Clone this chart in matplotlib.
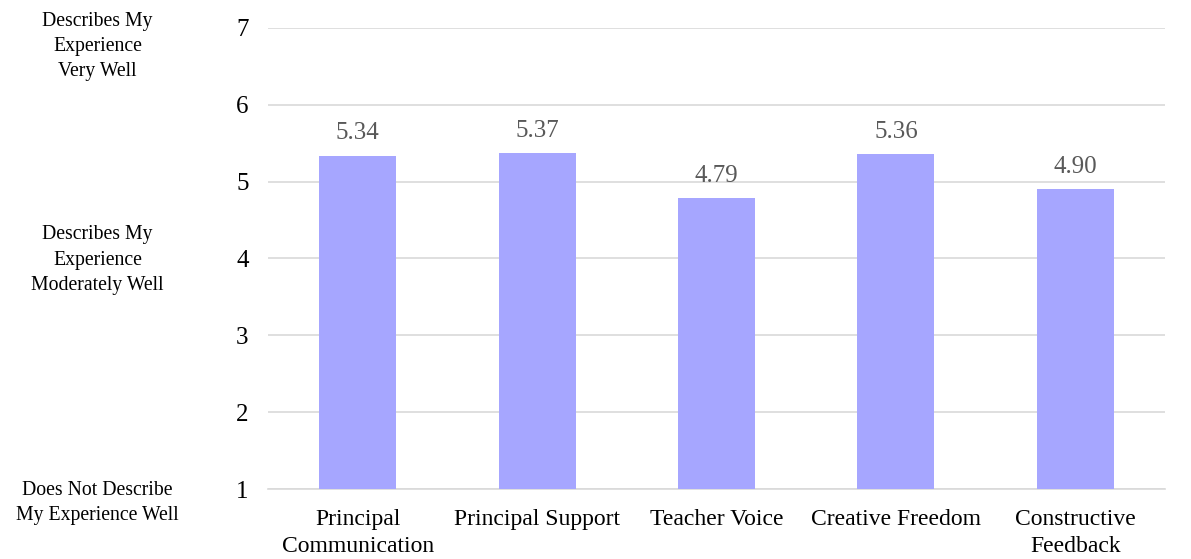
import matplotlib.pyplot as plt
import numpy as np

categories = ['Principal\nCommunication', 'Principal Support', 'Teacher Voice',
              'Creative Freedom', 'Constructive\nFeedback']
values = [5.34, 5.37, 4.79, 5.36, 4.90]
yticks = [1, 2, 3, 4, 5, 6, 7]
scale_labels = ['Does Not Describe\nMy Experience Well',
                'Describes My\nExperience\nModerately Well',
                'Describes My\nExperience\nVery Well']
scale_pos = [0.82, 3.98, 6.76]

plt.rcParams['font.family'] = ['Liberation Serif', 'DejaVu Serif']

fig = plt.figure(figsize=(11.91, 5.59), dpi=100)
ax = fig.add_axes([268/1191, 1 - 489/559, 897/1191, 461/559])

x = np.arange(len(categories))
ax.bar(x, np.array(values) - 1, 0.43, bottom=1, color='#A6A6FF', zorder=3)

# value labels above bars
for xi, v in zip(x, values):
    ax.text(xi, v + 0.29, f'{v:.2f}', ha='center', va='center',
            fontsize=18, color='#595959')

ax.set_ylim(1, 7)
ax.set_xlim(-0.5, len(categories) - 0.5)
ax.set_yticks(yticks)
ax.set_yticklabels([str(t) for t in yticks], fontsize=18)
ax.set_xticks(x)
ax.set_xticklabels(categories, fontsize=17, linespacing=1.35)
ax.tick_params(axis='x', length=0, pad=14.5)
ax.tick_params(axis='y', length=0, pad=14)
ax.grid(True, axis='y', color='#D9D9D9', linewidth=1.2, zorder=0)
for s in ['top', 'right', 'left']:
    ax.spines[s].set_visible(False)
ax.spines['bottom'].set_color('#D9D9D9')
ax.spines['bottom'].set_linewidth(1.2)

# scale descriptions on the far left
for lab, pos in zip(scale_labels, scale_pos):
    ax.text(-0.19, pos, lab, transform=ax.get_yaxis_transform(),
            ha='center', va='center', fontsize=14.2, linespacing=1.45)

fig.savefig('out.png', dpi=100)
